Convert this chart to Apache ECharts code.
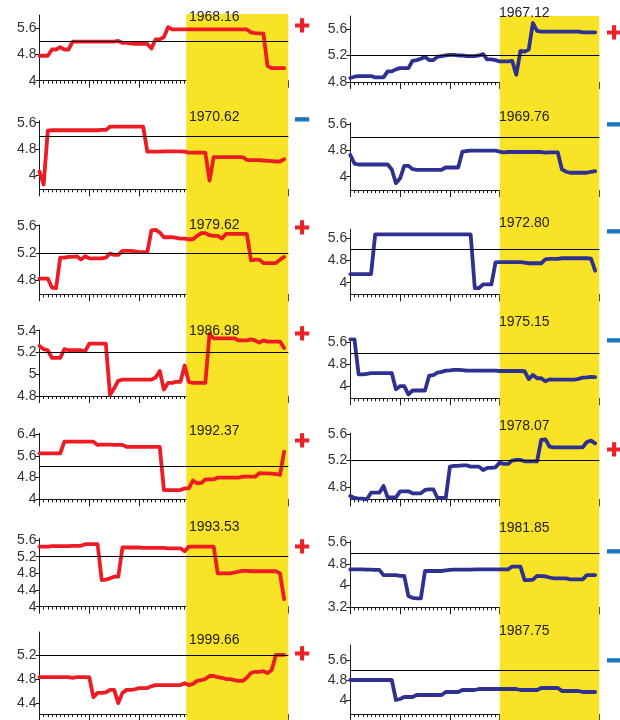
<!DOCTYPE html>
<html>
<head>
<meta charset="utf-8">
<script src="https://cdn.jsdelivr.net/npm/echarts@6/dist/echarts.min.js"></script>
<style>
  html, body { margin: 0; padding: 0; background: #ffffff; }
  #chart { width: 620px; height: 720px; }
</style>
</head>
<body>
<div id="chart"></div>
<script>
// Sixty monthly steps per panel; the shaded period runs to month 60.
const shadeFromLeft = 35.4;
const shadeFromRight = 36;
const shadeTo = 60;
const refLevel = 5.2;

// Left column (red)
const leftA = [4.76,4.76,4.76,4.95,4.95,5.02,4.95,4.95,5.19,5.19,
  5.19,5.19,5.19,5.19,5.19,5.19,5.19,5.19,5.19,5.21,
  5.15,5.15,5.14,5.12,5.12,5.12,5.12,4.98,5.26,5.26,
  5.33,5.63,5.56,5.56,5.56,5.56,5.56,5.56,5.56,5.56,
  5.56,5.56,5.56,5.56,5.56,5.56,5.56,5.56,5.56,5.56,
  5.56,5.47,5.45,5.44,5.43,4.45,4.38,4.38,4.38,4.38];
const leftB = [4.11,3.72,5.36,5.37,5.37,5.37,5.37,5.37,5.37,5.37,
  5.37,5.37,5.37,5.37,5.37,5.38,5.38,5.48,5.48,5.48,
  5.48,5.48,5.48,5.48,5.48,5.48,4.72,4.72,4.72,4.72,
  4.73,4.73,4.73,4.73,4.73,4.72,4.69,4.69,4.69,4.69,
  4.69,3.84,4.55,4.55,4.55,4.55,4.55,4.55,4.55,4.55,
  4.47,4.46,4.46,4.46,4.45,4.44,4.43,4.42,4.42,4.49];
const leftC = [4.82,4.82,4.82,4.69,4.68,5.13,5.13,5.14,5.14,5.15,
  5.10,5.15,5.12,5.12,5.12,5.12,5.13,5.19,5.17,5.17,
  5.23,5.23,5.23,5.22,5.21,5.21,5.21,5.53,5.54,5.50,
  5.43,5.43,5.43,5.42,5.41,5.41,5.40,5.40,5.45,5.49,
  5.49,5.46,5.45,5.45,5.41,5.48,5.48,5.48,5.48,5.48,
  5.48,5.09,5.10,5.10,5.05,5.05,5.05,5.05,5.10,5.14];
const leftD = [5.26,5.23,5.22,5.15,5.15,5.15,5.23,5.22,5.22,5.22,
  5.22,5.21,5.28,5.28,5.28,5.28,5.28,4.81,4.87,4.94,
  4.95,4.95,4.95,4.95,4.95,4.95,4.95,4.95,4.97,5.03,
  4.86,4.92,4.92,4.93,4.93,5.08,4.93,4.92,4.92,4.92,
  4.92,5.37,5.33,5.33,5.33,5.33,5.33,5.33,5.31,5.31,
  5.31,5.32,5.31,5.29,5.31,5.30,5.30,5.30,5.30,5.24];
const leftE = [5.69,5.69,5.69,5.69,5.69,5.69,6.12,6.12,6.12,6.12,
  6.12,6.12,6.12,6.12,6.00,6.01,6.01,6.01,6.00,6.00,
  6.00,5.93,5.93,5.93,5.93,5.93,5.93,5.93,5.93,5.93,
  4.34,4.34,4.34,4.34,4.34,4.40,4.40,4.69,4.59,4.60,
  4.73,4.73,4.73,4.80,4.80,4.80,4.80,4.80,4.80,4.83,
  4.83,4.83,4.83,4.96,4.95,4.95,4.94,4.93,4.90,5.75];
const leftF = [5.44,5.44,5.44,5.45,5.45,5.45,5.45,5.45,5.46,5.46,
  5.46,5.50,5.50,5.50,5.50,4.64,4.65,4.68,4.72,4.72,
  5.42,5.42,5.42,5.42,5.42,5.41,5.41,5.41,5.41,5.41,
  5.41,5.40,5.40,5.40,5.40,5.33,5.44,5.44,5.44,5.44,
  5.44,5.44,5.44,4.80,4.80,4.80,4.80,4.82,4.84,4.86,
  4.86,4.85,4.85,4.85,4.85,4.85,4.85,4.85,4.80,4.18];
const leftG = [4.83,4.83,4.83,4.83,4.83,4.83,4.83,4.83,4.82,4.83,
  4.83,4.83,4.83,4.50,4.57,4.57,4.58,4.62,4.62,4.40,
  4.57,4.62,4.62,4.63,4.65,4.65,4.65,4.68,4.70,4.70,
  4.70,4.70,4.70,4.70,4.70,4.73,4.70,4.72,4.77,4.78,
  4.80,4.85,4.85,4.83,4.82,4.80,4.80,4.78,4.77,4.77,
  4.82,4.90,4.92,4.92,4.93,4.90,4.95,5.20,5.20,5.20];

// Right column (blue)
const rightA = [4.86,4.88,4.89,4.89,4.89,4.89,4.87,4.87,4.87,4.96,
  4.96,4.99,5.01,5.01,5.01,5.12,5.13,5.15,5.18,5.13,
  5.13,5.18,5.19,5.20,5.21,5.21,5.20,5.20,5.19,5.19,
  5.19,5.20,5.22,5.14,5.14,5.13,5.11,5.11,5.11,5.12,
  4.91,5.27,5.26,5.29,5.69,5.57,5.56,5.56,5.56,5.56,
  5.56,5.56,5.56,5.56,5.56,5.56,5.55,5.55,5.55,5.55];
const rightB = [4.66,4.40,4.37,4.37,4.37,4.37,4.37,4.37,4.37,4.37,
  4.22,3.80,3.95,4.33,4.33,4.23,4.21,4.21,4.21,4.21,
  4.21,4.21,4.21,4.28,4.28,4.28,4.28,4.76,4.78,4.79,
  4.79,4.79,4.79,4.79,4.79,4.79,4.76,4.74,4.75,4.75,
  4.75,4.75,4.75,4.75,4.75,4.75,4.75,4.73,4.74,4.74,
  4.74,4.22,4.15,4.12,4.12,4.12,4.12,4.12,4.15,4.17];
const rightC = [4.31,4.31,4.31,4.31,4.31,4.31,5.74,5.74,5.74,5.74,
  5.74,5.74,5.74,5.74,5.74,5.74,5.74,5.74,5.74,5.74,
  5.74,5.74,5.74,5.74,5.74,5.74,5.74,5.74,5.74,5.74,
  3.80,3.80,3.94,3.94,3.94,4.73,4.74,4.74,4.74,4.74,
  4.74,4.74,4.72,4.70,4.70,4.70,4.70,4.84,4.86,4.86,
  4.86,4.88,4.88,4.88,4.88,4.88,4.88,4.88,4.87,4.43];
const rightD = [5.70,5.70,4.44,4.44,4.46,4.48,4.48,4.48,4.48,4.48,
  4.48,3.90,4.02,4.02,3.72,3.86,3.86,3.86,3.86,4.39,
  4.41,4.50,4.53,4.57,4.58,4.60,4.60,4.59,4.57,4.57,
  4.57,4.57,4.57,4.57,4.57,4.57,4.56,4.56,4.56,4.56,
  4.56,4.56,4.55,4.27,4.42,4.30,4.30,4.19,4.26,4.25,
  4.25,4.25,4.25,4.25,4.25,4.28,4.32,4.33,4.35,4.34];
const rightE = [4.67,4.64,4.63,4.63,4.62,4.72,4.72,4.72,4.82,4.65,
  4.65,4.65,4.74,4.74,4.74,4.71,4.71,4.71,4.76,4.77,
  4.77,4.64,4.64,4.64,5.11,5.12,5.12,5.13,5.13,5.11,
  5.11,5.11,5.06,5.09,5.09,5.10,5.17,5.15,5.15,5.20,
  5.21,5.21,5.19,5.19,5.19,5.19,5.51,5.52,5.41,5.40,
  5.40,5.40,5.40,5.40,5.40,5.40,5.40,5.48,5.50,5.46];
const rightF = [4.60,4.60,4.60,4.60,4.59,4.59,4.58,4.58,4.39,4.39,
  4.39,4.39,4.36,4.36,3.62,3.55,3.53,3.53,4.54,4.54,
  4.54,4.54,4.54,4.56,4.58,4.59,4.59,4.59,4.59,4.59,
  4.60,4.60,4.60,4.60,4.60,4.60,4.60,4.60,4.60,4.70,
  4.70,4.70,4.20,4.20,4.22,4.36,4.35,4.34,4.30,4.27,
  4.27,4.27,4.27,4.23,4.23,4.23,4.23,4.39,4.39,4.39];
const rightG = [4.80,4.80,4.80,4.80,4.80,4.80,4.80,4.80,4.80,4.80,
  4.80,4.00,4.04,4.12,4.12,4.12,4.20,4.20,4.20,4.20,
  4.20,4.20,4.20,4.32,4.32,4.32,4.32,4.40,4.40,4.40,
  4.40,4.44,4.44,4.44,4.44,4.44,4.44,4.44,4.44,4.44,
  4.44,4.40,4.40,4.40,4.40,4.40,4.48,4.48,4.48,4.48,
  4.48,4.36,4.36,4.36,4.36,4.36,4.32,4.32,4.32,4.32];

const leftYears  = ['1968.16','1970.62','1979.62','1986.98','1992.37','1993.53','1999.66'];
const rightYears = ['1967.12','1969.76','1972.80','1975.15','1978.07','1981.85','1987.75'];
const leftSigns  = ['+','−','+','+','+','+','+'];
const rightSigns = ['+','−','−','−','+','−','−'];

const leftTicks  = [[4,4.8,5.6],[4,4.8,5.6],[4.8,5.2,5.6],[4.8,5,5.2,5.4],[4,4.8,5.6,6.4],[4,4.4,4.8,5.2,5.6],[4.4,4.8,5.2]];
const rightTicks = [[4.8,5.2,5.6],[4,4.8,5.6],[4,4.8,5.6],[4,4.8,5.6],[4.8,5.2,5.6],[3.2,4,4.8,5.6],[4,4.8,5.6]];
const leftRange  = [[4,6],[3.574,5.661],[4.59,5.61],[4.8,5.406],[4,6.426],[4,5.64],[4.22,5.58]];
const rightRange = [[4.8,5.796],[3.596,5.64],[3.58,5.924],[3.58,5.697],[4.62,5.61],[3.2,5.659],[3.44,6.2]];

const leftValues  = [leftA, leftB, leftC, leftD, leftE, leftF, leftG];
const rightValues = [rightA, rightB, rightC, rightD, rightE, rightF, rightG];

// ---- layout (pixels) ----
const columns = [
  { left: 39.5, width: 248.8, shadeTop: 14, shadeFrom: shadeFromLeft, color: '#ed1c24',
    tops: [15, 120.7, 225, 330, 433.3, 538.3, 632],
    heights: [65.7, 68.6, 69.3, 66, 66, 68.4, 82],
    yearX: 189, yearY: [17.3, 117.3, 225, 330.7, 430.7, 527.3, 640],
    signX: 302, signY: [26.7, 120.7, 228.7, 334.7, 441.7, 548.3, 655],
    values: leftValues, years: leftYears, signs: leftSigns, ticks: leftTicks, ranges: leftRange },
  { left: 350.3, width: 249, shadeTop: 16, shadeFrom: shadeFromRight, color: '#2e3192',
    tops: [16, 122.7, 229.3, 339.3, 433.3, 540.7, 645],
    heights: [66, 67.3, 65, 59, 66, 66.6, 69],
    yearX: 499, yearY: [12.7, 116.7, 223.3, 321.7, 426, 528.3, 631],
    signX: 614, signY: [34.3, 126, 233.3, 341.7, 450.7, 553.3, 662],
    values: rightValues, years: rightYears, signs: rightSigns, ticks: rightTicks, ranges: rightRange }
];

const FONT = '"Liberation Sans", Arial, Helvetica, sans-serif';
const AXIS = '#1a1a1a';
const YELLOW = '#f8e326';
const PLUS = '#ea2128';
const MINUS = '#1b74bb';

const grid = [], xAxis = [], yAxis = [], series = [], graphic = [];

// Shaded background band for each column, spanning the full column height
columns.forEach((col) => {
  const gi = grid.length;
  grid.push({ left: col.left, width: col.width, top: col.shadeTop, height: 720 - col.shadeTop });
  const xi = xAxis.length, yi = yAxis.length;
  xAxis.push({ gridIndex: gi, type: 'value', min: 0, max: 60, show: false });
  yAxis.push({ gridIndex: gi, type: 'value', min: 0, max: 1, show: false });
  series.push({
    type: 'line', xAxisIndex: xi, yAxisIndex: yi, z: -10, silent: true,
    symbol: 'none', data: [[0, 0]], lineStyle: { width: 0, opacity: 0 },
    markArea: { silent: true, itemStyle: { color: YELLOW }, data: [[{ xAxis: col.shadeFrom }, { xAxis: shadeTo }]] }
  });
});

// One small panel per series
columns.forEach((col) => {
  col.values.forEach((vals, p) => {
    const gi = grid.length;
    grid.push({ left: col.left, width: col.width, top: col.tops[p], height: col.heights[p] });

    // monthly ticks (short) on the main axis
    const xi = xAxis.length;
    xAxis.push({
      gridIndex: gi, type: 'value', min: 0, max: 60, interval: 1, position: 'bottom',
      axisLine: { show: true, onZero: false, lineStyle: { color: AXIS, width: 1 } },
      axisTick: { show: true, length: 3, lineStyle: { color: AXIS, width: 1 } },
      axisLabel: { show: false },
      splitLine: { show: false }
    });
    // yearly ticks (long) on a companion axis
    xAxis.push({
      gridIndex: gi, type: 'value', min: 0, max: 60, interval: 12, position: 'bottom', offset: 0,
      axisLine: { show: false, onZero: false },
      axisTick: { show: true, length: 7, lineStyle: { color: AXIS, width: 1 } },
      axisLabel: { show: false },
      splitLine: { show: false }
    });

    const yi = yAxis.length;
    yAxis.push({
      gridIndex: gi, type: 'value', min: col.ranges[p][0], max: col.ranges[p][1],
      axisLine: { show: true, lineStyle: { color: AXIS, width: 1 } },
      axisTick: { show: true, length: 4, customValues: col.ticks[p], lineStyle: { color: AXIS, width: 1 } },
      axisLabel: { customValues: col.ticks[p], fontSize: 14, color: '#333333', margin: 3, fontFamily: FONT },
      splitLine: { show: false }
    });
    series.push({
      type: 'line', xAxisIndex: xi, yAxisIndex: yi, z: 3,
      data: vals.map((v, i) => [i, v]),
      symbol: 'none', showSymbol: false,
      lineStyle: { color: col.color, width: 3.8, join: 'round', cap: 'round' },
      markLine: {
        silent: true, symbol: 'none', label: { show: false },
        lineStyle: { color: '#000000', width: 1, type: 'solid' },
        emphasis: { disabled: true },
        data: [{ yAxis: refLevel }]
      }
    });

    graphic.push({
      type: 'text', z: 50,
      style: { text: col.years[p], x: col.yearX, y: col.yearY[p], fill: '#222222',
        font: '14px ' + FONT, textAlign: 'left', textVerticalAlign: 'middle', align: 'left', verticalAlign: 'middle' }
    });
    const s = col.signs[p];
    const c = s === '+' ? PLUS : MINUS;
    graphic.push({
      type: 'text', z: 50,
      style: { text: s, x: col.signX, y: col.signY[p], fill: c, stroke: c, lineWidth: 1.2,
        font: 'bold 26px ' + FONT, textAlign: 'center', textVerticalAlign: 'middle', align: 'center', verticalAlign: 'middle' }
    });
  });
});

const chart = echarts.init(document.getElementById('chart'), null, { renderer: 'canvas' });
chart.setOption({
  animation: false,
  backgroundColor: '#ffffff',
  grid, xAxis, yAxis, series, graphic
});
</script>
</body>
</html>
